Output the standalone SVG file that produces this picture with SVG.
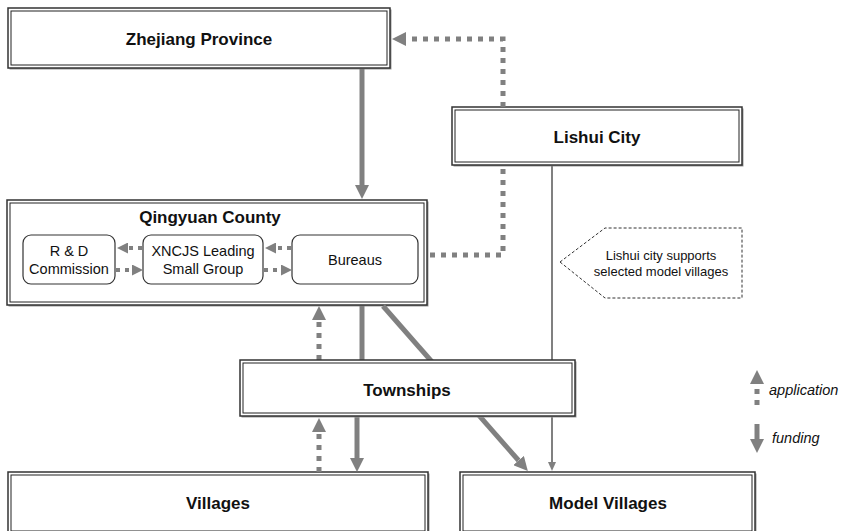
<svg xmlns="http://www.w3.org/2000/svg" width="847" height="531" viewBox="0 0 847 531">
  <style>
    .shadow { fill: #9a9a9a; }
    .outer { fill: #ffffff; stroke: #333333; stroke-width: 1.5; }
    .inner { fill: none; stroke: #222222; stroke-width: 1; }
    .sub { fill: #ffffff; stroke: #333333; stroke-width: 1.2; }
    .title { font-family: "Liberation Sans", Arial, sans-serif; font-weight: bold; font-size: 17px; fill: #111111; text-anchor: middle; }
    .label { font-family: "Liberation Sans", Arial, sans-serif; font-size: 14.5px; fill: #111111; text-anchor: middle; }
    .note { font-family: "Liberation Sans", Arial, sans-serif; font-size: 13px; fill: #111111; text-anchor: middle; }
    .legend { font-family: "Liberation Sans", Arial, sans-serif; font-style: italic; font-size: 14.5px; fill: #111111; }
    .solid { fill: none; stroke: #808080; stroke-width: 5; }
    .thin { fill: none; stroke: #808080; stroke-width: 2; }
    .dotted { fill: none; stroke: #808080; stroke-width: 5; stroke-dasharray: 5 6; }
    .dotsmall { fill: none; stroke: #808080; stroke-width: 4; stroke-dasharray: 4 5; }
    .callout { fill: #ffffff; stroke: #333333; stroke-width: 1; stroke-dasharray: 3 2; }
  </style>
  <defs>
    <marker id="head" markerUnits="userSpaceOnUse" markerWidth="14" markerHeight="14" refX="0" refY="7" orient="auto">
      <path d="M0,0 L14,7 L0,14 z" fill="#808080"/>
    </marker>
    <marker id="headSmall" markerUnits="userSpaceOnUse" markerWidth="11" markerHeight="11" refX="0" refY="5.5" orient="auto">
      <path d="M0,0 L11,5.5 L0,11 z" fill="#808080"/>
    </marker>
    <marker id="headThin" markerUnits="userSpaceOnUse" markerWidth="9" markerHeight="8" refX="0" refY="4" orient="auto">
      <path d="M0,0 L9,4 L0,8 z" fill="#808080"/>
    </marker>
  </defs>

  <!-- Province -->
  <g id="zhejiang">
    <rect class="shadow" x="9.5" y="9.5" width="382" height="60"/>
    <rect class="outer" x="8" y="8" width="382" height="60"/>
    <rect class="inner" x="11" y="11" width="376" height="54"/>
    <text class="title" x="199" y="45">Zhejiang Province</text>
  </g>

  <!-- City -->
  <g id="lishui">
    <rect class="shadow" x="453.5" y="108.5" width="290" height="58"/>
    <rect class="outer" x="452" y="107" width="290" height="58"/>
    <rect class="inner" x="455" y="110" width="284" height="52"/>
    <text class="title" x="597" y="143">Lishui City</text>
  </g>

  <!-- County with its internal bodies -->
  <g id="qingyuan">
    <rect class="shadow" x="8.5" y="201.5" width="420" height="105"/>
    <rect class="outer" x="7" y="200" width="420" height="105"/>
    <rect class="inner" x="10" y="203" width="414" height="99"/>
    <text class="title" x="210" y="223">Qingyuan County</text>
  </g>
  <g id="rd-commission">
    <rect class="sub" x="23" y="235" width="92" height="49" rx="8"/>
    <text class="label" x="69" y="256">R &amp; D</text>
    <text class="label" x="69" y="274">Commission</text>
  </g>
  <g id="xncjs-group">
    <rect class="sub" x="143" y="235" width="120" height="49" rx="8"/>
    <text class="label" x="203" y="256">XNCJS Leading</text>
    <text class="label" x="203" y="274">Small Group</text>
  </g>
  <g id="bureaus">
    <rect class="sub" x="292" y="235" width="126" height="49" rx="8"/>
    <text class="label" x="355" y="265">Bureaus</text>
  </g>

  <!-- Village level -->
  <g id="villages">
    <rect class="shadow" x="9.5" y="473.5" width="420" height="62"/>
    <rect class="outer" x="8" y="472" width="420" height="62"/>
    <rect class="inner" x="11" y="475" width="414" height="56"/>
    <text class="title" x="218" y="509">Villages</text>
  </g>
  <g id="model-villages">
    <rect class="shadow" x="461.5" y="473.5" width="295" height="62"/>
    <rect class="outer" x="460" y="472" width="295" height="62"/>
    <rect class="inner" x="463" y="475" width="289" height="56"/>
    <text class="title" x="608" y="509">Model Villages</text>
  </g>

  <!-- Callout note -->
  <g id="note">
    <polygon class="callout" points="560,262 605,228 742,228 742,298 605,298"/>
    <text class="note" x="661" y="260">Lishui city supports</text>
    <text class="note" x="661" y="276">selected model villages</text>
  </g>

  <!-- Flows between levels -->
  <g id="connectors">
    <path class="solid" d="M362,69 V185" marker-end="url(#head)"/>
    <path class="dotted" d="M503,107 V39 H406" marker-end="url(#head)"/>
    <path class="dotted" d="M430,255 H503 V166"/>
    <path class="solid" d="M362,306 V360"/>
    <path class="solid" d="M383,306 L518.6,460.5" marker-end="url(#head)"/>
    <path class="thin" d="M552,166 V462" marker-end="url(#headThin)"/>
    <path class="dotted" d="M319,360 V320" marker-end="url(#head)"/>
    <path class="solid" d="M357,417 V458" marker-end="url(#head)"/>
    <path class="dotted" d="M319,472 V432" marker-end="url(#head)"/>
    <!-- inside the county -->
    <path class="dotsmall" d="M142,248 H128" marker-end="url(#headSmall)"/>
    <path class="dotsmall" d="M116,270 H132" marker-end="url(#headSmall)"/>
    <path class="dotsmall" d="M291,248 H276" marker-end="url(#headSmall)"/>
    <path class="dotsmall" d="M264,270 H281" marker-end="url(#headSmall)"/>
  </g>

  <!-- Township level, drawn over the lines that pass behind it -->
  <g id="townships">
    <rect class="shadow" x="241.5" y="361.5" width="335" height="56"/>
    <rect class="outer" x="240" y="360" width="335" height="56"/>
    <rect class="inner" x="243" y="363" width="329" height="50"/>
    <text class="title" x="407" y="396">Townships</text>
  </g>

  <!-- Legend -->
  <g id="legend">
    <path class="dotted" d="M757,405 V384" marker-end="url(#head)"/>
    <text class="legend" x="769" y="395">application</text>
    <path class="solid" d="M757,424 V439" marker-end="url(#head)"/>
    <text class="legend" x="772" y="443">funding</text>
  </g>
</svg>
